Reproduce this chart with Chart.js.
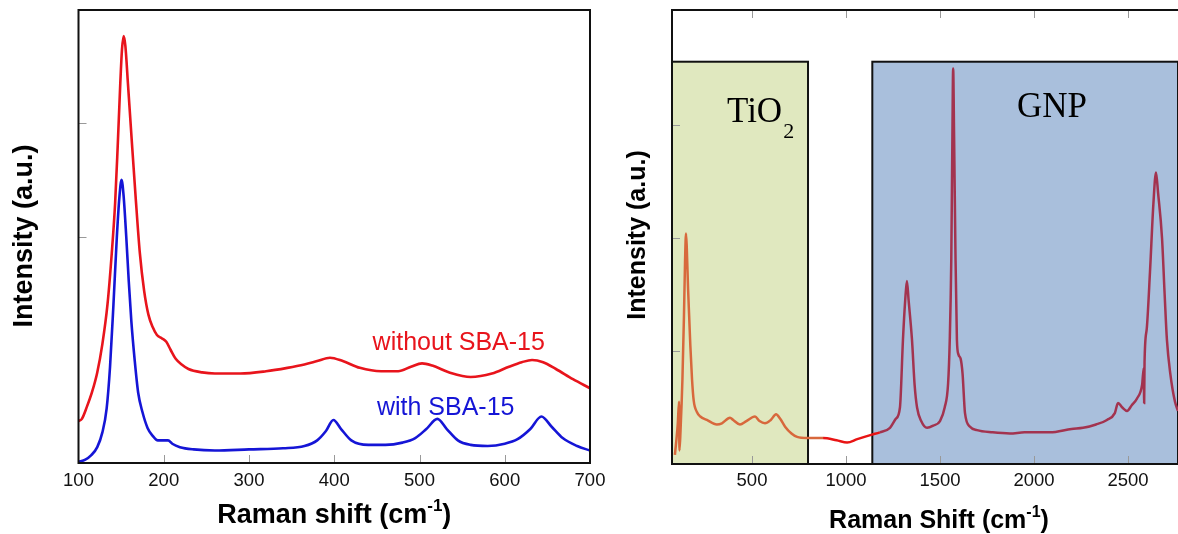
<!DOCTYPE html>
<html><head><meta charset="utf-8">
<script src="https://cdn.jsdelivr.net/npm/chart.js@4.4.1/dist/chart.umd.min.js"></script>
<style>
html,body{margin:0;padding:0;background:#fff;}
#wrap{position:relative;width:1178px;height:534px;overflow:hidden;background:#fff;}
canvas{position:absolute;left:0;top:0;}
</style></head><body>
<div id="wrap"><canvas id="c1" width="1178" height="534"></canvas><canvas id="c2" width="1178" height="534"></canvas></div>
<script>
// ---------- DATA ----------
// Left panel: Raman spectra (a.u.), x = Raman shift (cm-1)
const redShift = [100,104,110,116,122,128,134,139,143,146,149,151,153,155,158,162,167,172,177,182,187,192,198,203,208,214,221,229,245,260,290,320,345,365,380,395,410,430,455,475,490,503,515,535,560,585,605,620,632,645,660,680,700];
const redIntensity = [0.37,0.39,0.5,0.63,0.8,1.05,1.4,1.85,2.3,2.8,3.35,3.65,3.77,3.68,3.35,2.9,2.35,1.85,1.52,1.31,1.2,1.13,1.1,1.07,1.0,0.92,0.87,0.83,0.8,0.79,0.79,0.81,0.84,0.87,0.9,0.93,0.9,0.84,0.81,0.81,0.85,0.88,0.86,0.8,0.76,0.79,0.85,0.89,0.91,0.89,0.83,0.74,0.66];
const blueShift = [100,108,115,122,128,133,137,141,145,148,150.5,153,156,159,162,166,170,175,181,187,193,200,205,210,219,235,260,300,340,365,380,390,399,408,420,440,460,480,495,508,521,532,545,560,580,600,615,630,643,655,668,685,700];
const blueIntensity = [0.01,0.03,0.07,0.14,0.27,0.48,0.85,1.4,2.0,2.35,2.5,2.35,2.0,1.6,1.25,0.9,0.62,0.45,0.31,0.24,0.2,0.2,0.2,0.17,0.14,0.12,0.11,0.12,0.13,0.15,0.2,0.28,0.38,0.3,0.2,0.16,0.16,0.18,0.22,0.3,0.39,0.3,0.2,0.16,0.15,0.17,0.21,0.3,0.41,0.32,0.22,0.15,0.11];
const seriesNames = ['without SBA-15','with SBA-15'];
const leftTicks = [100,200,300,400,500,600,700];

// Right panel: TiO2/GNP spectrum
const gnpShift = [90,105,112,114,120,130,138,144,149,153,160,166,172,181,190,207,225,260,313,340,383,400,436,470,516,540,569,600,628,650,676,710,740,793,878,950,1006,1060,1138,1180,1234,1265,1287,1303,1315,1324,1333,1351,1365,1378,1400,1431,1465,1500,1525,1543,1552,1560,1566,1570,1575,1582,1590,1598,1610,1620,1633,1660,1697,1780,1872,1950,2085,2200,2261,2330,2388,2430,2447,2470,2495,2520,2548,2575,2584,2586,2588,2600,2617,2635,2649,2660,2681,2695,2707,2725,2750,2766];
const gnpIntensity = [0.08,0.35,0.55,0.12,0.3,0.75,1.3,1.8,2.04,1.92,1.55,1.3,1.05,0.75,0.56,0.46,0.42,0.39,0.35,0.36,0.41,0.39,0.35,0.38,0.42,0.38,0.36,0.39,0.44,0.4,0.33,0.27,0.24,0.23,0.23,0.21,0.19,0.22,0.26,0.28,0.32,0.4,0.5,1.1,1.45,1.62,1.45,1.1,0.7,0.5,0.38,0.32,0.34,0.38,0.5,0.71,1.1,1.8,2.9,3.5,2.9,1.9,1.1,0.97,0.93,0.8,0.45,0.33,0.3,0.28,0.27,0.28,0.28,0.31,0.32,0.35,0.39,0.45,0.54,0.5,0.47,0.52,0.58,0.7,0.85,0.54,0.9,1.2,1.7,2.3,2.58,2.4,2.0,1.5,1.1,0.8,0.55,0.47];
const rightTicks = [500,1000,1500,2000,2500];
const regionNames = ['TiO','GNP'];
const tio2Range = [74.5, 798];
const gnpRange = [1140, 2766];
const regionTop = 3.56;

// ---------- HELPERS ----------
const SANS = '"Liberation Sans", Arial, sans-serif';
const SERIF = '"Liberation Serif", "Times New Roman", serif';

function titleWithSup(ctx, main, sup, tail, size, cx, baseline){
  const f1 = `bold ${size}px ${SANS}`, f2 = `bold ${Math.round(size*0.62)}px ${SANS}`;
  ctx.font = f1; const w1 = ctx.measureText(main).width, w3 = ctx.measureText(tail).width;
  ctx.font = f2; const w2 = ctx.measureText(sup).width;
  let x = cx - (w1+w2+w3)/2;
  ctx.textAlign='left'; ctx.textBaseline='alphabetic'; ctx.fillStyle='#000';
  ctx.font=f1; ctx.fillText(main,x,baseline); x+=w1;
  ctx.font=f2; ctx.fillText(sup,x,baseline-size*0.45); x+=w2;
  ctx.font=f1; ctx.fillText(tail,x,baseline);
}
function rotTitle(ctx, text, size, cx, cy){
  ctx.save(); ctx.translate(cx,cy); ctx.rotate(-Math.PI/2);
  ctx.font=`bold ${size}px ${SANS}`; ctx.fillStyle='#000';
  ctx.textAlign='center'; ctx.textBaseline='middle'; ctx.fillText(text,0,0); ctx.restore();
}

const common = {
  responsive:false, animation:false, events:[],
  plugins:{legend:{display:false}, tooltip:{enabled:false}}
};
const XH = 40;

// ---------- LEFT CHART ----------
const leftPlugin = {
  id:'leftDeco',
  afterDatasetsDraw(chart){
    const {ctx, chartArea:a, scales:{x,y}} = chart;
    ctx.save();
    ctx.strokeStyle='#999'; ctx.lineWidth=1;
    leftTicks.slice(1,-1).forEach(v=>{ const px=Math.round(x.getPixelForValue(v))+0.5;
      ctx.beginPath(); ctx.moveTo(px,a.bottom); ctx.lineTo(px,a.bottom-8); ctx.stroke(); });
    [2,3].forEach(v=>{ const py=Math.round(y.getPixelForValue(v))+0.5;
      ctx.beginPath(); ctx.moveTo(a.left,py); ctx.lineTo(a.left+8,py); ctx.stroke(); });
    ctx.strokeStyle='#111'; ctx.lineWidth=2;
    ctx.strokeRect(a.left, a.top, a.right-a.left, a.bottom-a.top);
    // series labels
    ctx.font=`25px ${SANS}`; ctx.textAlign='left'; ctx.textBaseline='alphabetic';
    ctx.fillStyle='#e8141c'; ctx.fillText(seriesNames[0], x.getPixelForValue(445), y.getPixelForValue(1.0));
    ctx.fillStyle='#1515d6'; ctx.fillText(seriesNames[1], x.getPixelForValue(450), y.getPixelForValue(0.425));
    titleWithSup(ctx,'Raman shift (cm','-1',')',27,(a.left+a.right)/2,523);
    rotTitle(ctx,'Intensity (a.u.)',27,25,236);
    ctx.restore();
  }
};
new Chart(document.getElementById('c1'), {
  type:'line',
  data:{datasets:[
    {label:seriesNames[0], data:redShift.map((v,i)=>({x:v,y:redIntensity[i]})), borderColor:'#e8141c', borderWidth:2.6, pointRadius:0, cubicInterpolationMode:'monotone', fill:false},
    {label:seriesNames[1], data:blueShift.map((v,i)=>({x:v,y:blueIntensity[i]})), borderColor:'#1515d6', borderWidth:2.6, pointRadius:0, cubicInterpolationMode:'monotone', fill:false}
  ]},
  options:{...common,
    layout:{padding:{left:78.5, right:1178-590, top:10, bottom:534-463-XH}},
    scales:{
      x:{type:'linear', min:100, max:700,
        afterBuildTicks:s=>{ s.ticks = leftTicks.map(v=>({value:v})); },
        afterFit:s=>{ s.height = XH; },
        grid:{display:false, drawTicks:false}, border:{display:false},
        ticks:{font:{family:SANS, size:18.5}, color:'#111', padding:7, maxRotation:0, autoSkip:false, callback:v=>String(v)}},
      y:{type:'linear', min:0, max:4, display:false}
    }
  },
  plugins:[leftPlugin]
});

// ---------- RIGHT CHART ----------
const rightPlugin = {
  id:'rightDeco',
  beforeDatasetsDraw(chart){
    const {ctx, chartArea:a, scales:{x,y}} = chart;
    ctx.save();
    const top = y.getPixelForValue(regionTop);
    const boxes = [[tio2Range,'#e0e8bf'],[gnpRange,'#a9bfdc']];
    boxes.forEach(([r,c])=>{
      const l = x.getPixelForValue(r[0]), rr = x.getPixelForValue(r[1]);
      ctx.fillStyle=c; ctx.fillRect(l, top, rr-l, a.bottom-top);
      ctx.strokeStyle='#111'; ctx.lineWidth=2; ctx.strokeRect(l, top, rr-l, a.bottom-top);
    });
    ctx.restore();
  },
  afterDatasetsDraw(chart){
    const {ctx, chartArea:a, scales:{x,y}} = chart;
    ctx.save();
    ctx.strokeStyle='#999'; ctx.lineWidth=1;
    rightTicks.forEach(v=>{ const px=Math.round(x.getPixelForValue(v))+0.5;
      ctx.beginPath(); ctx.moveTo(px,a.bottom); ctx.lineTo(px,a.bottom-8); ctx.stroke();
      ctx.beginPath(); ctx.moveTo(px,a.top); ctx.lineTo(px,a.top+8); ctx.stroke(); });
    [1,2,3].forEach(v=>{ const py=Math.round(y.getPixelForValue(v))+0.5;
      ctx.beginPath(); ctx.moveTo(a.left,py); ctx.lineTo(a.left+8,py); ctx.stroke(); });
    ctx.strokeStyle='#111'; ctx.lineWidth=2;
    ctx.beginPath(); ctx.moveTo(a.right+2,a.top); ctx.lineTo(a.left,a.top); ctx.lineTo(a.left,a.bottom); ctx.lineTo(a.right+2,a.bottom); ctx.stroke();
    // region labels
    ctx.fillStyle='#000'; ctx.textAlign='left'; ctx.textBaseline='alphabetic';
    ctx.font=`35px ${SERIF}`;
    const tx = x.getPixelForValue(367), ty = y.getPixelForValue(3.03);
    ctx.fillText(regionNames[0], tx, ty);
    const w = ctx.measureText(regionNames[0]).width;
    ctx.font=`22px ${SERIF}`; ctx.fillText('2', tx+w+1, ty+16);
    ctx.font=`35px ${SERIF}`;
    ctx.fillText(regionNames[1], x.getPixelForValue(1910), y.getPixelForValue(3.07));
    titleWithSup(ctx,'Raman Shift (cm','-1',')',25,939,528);
    rotTitle(ctx,'Intensity (a.u.)',25,638,235);
    ctx.restore();
  }
};
new Chart(document.getElementById('c2'), {
  type:'line',
  data:{datasets:[
    {label:'TiO2/GNP', data:gnpShift.map((v,i)=>({x:v,y:gnpIntensity[i]})), borderWidth:2.5, pointRadius:0, cubicInterpolationMode:'monotone', fill:false,
     borderColor:'#e81414',
     segment:{borderColor:c=>{ const v=c.p0.parsed.x; return v < tio2Range[1] ? '#d8683c' : (v >= gnpRange[0] ? '#a3334f' : '#e81414'); }}}
  ]},
  options:{...common,
    layout:{padding:{left:672, right:0, top:10, bottom:534-464-XH}},
    scales:{
      x:{type:'linear', min:tio2Range[0], max:gnpRange[1],
        afterBuildTicks:s=>{ s.ticks = rightTicks.map(v=>({value:v})); },
        afterFit:s=>{ s.height = XH; },
        grid:{display:false, drawTicks:false}, border:{display:false},
        ticks:{font:{family:SANS, size:18.5}, color:'#111', padding:6, maxRotation:0, autoSkip:false, callback:v=>String(v)}},
      y:{type:'linear', min:0, max:454/113, display:false}
    }
  },
  plugins:[rightPlugin]
});
</script>
</body></html>
